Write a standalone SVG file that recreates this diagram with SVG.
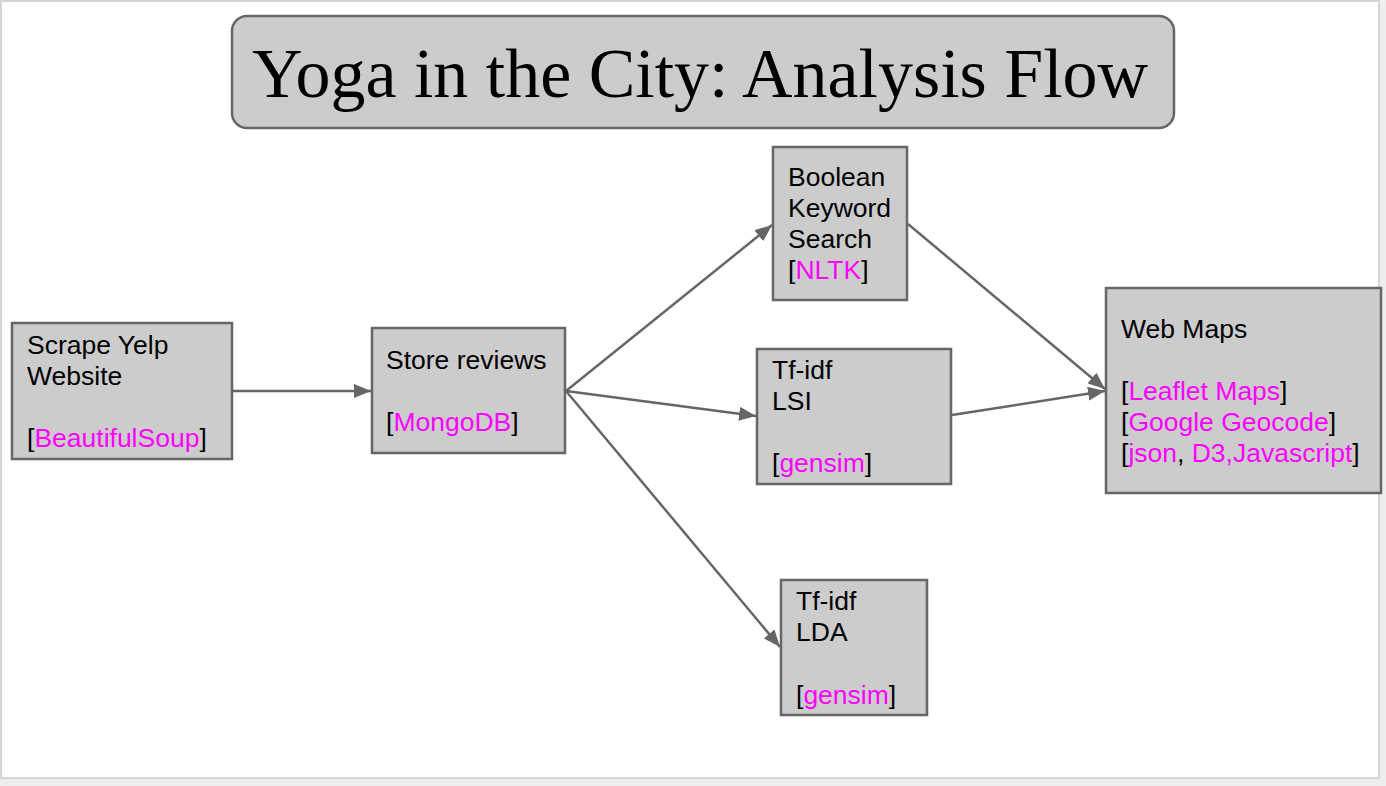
<svg xmlns="http://www.w3.org/2000/svg" width="1386" height="786" viewBox="0 0 1386 786">
<style>
.box{fill:#cccccc;stroke:#666666;stroke-width:2.5}
.t{font-family:"Liberation Sans",Arial,sans-serif;font-size:26.5px;fill:#000}
.m{fill:#ff00ff}
.c{stroke:#666666;stroke-width:2.5;fill:none;marker-end:url(#ah)}
</style>
<defs>
<marker id="ah" markerUnits="userSpaceOnUse" markerWidth="18" markerHeight="14" refX="17" refY="7" orient="auto">
<path d="M0,0 L17,7 L0,14 Z" fill="#666666"/>
</marker>
</defs>
<rect x="0" y="0" width="1386" height="786" fill="#eeeeee"/>
<rect x="1" y="1" width="1378" height="777" fill="#ffffff" stroke="#cccccc" stroke-width="1.5"/>
<g id="title">
<rect x="232" y="16" width="942" height="112" rx="15" ry="15" class="box"/>
<text x="252" y="97" font-family="'Liberation Serif','Times New Roman',serif" font-size="70" textLength="896" lengthAdjust="spacingAndGlyphs">Yoga in the City: Analysis Flow</text>
</g>
<g id="connectors">
<line x1="232" y1="391" x2="371" y2="391" class="c"/>
<line x1="566" y1="391" x2="772" y2="225" class="c"/>
<line x1="566" y1="391" x2="756" y2="416" class="c"/>
<line x1="566" y1="391" x2="780" y2="647" class="c"/>
<line x1="908" y1="224" x2="1105" y2="389" class="c"/>
<line x1="952" y1="415" x2="1105" y2="391" class="c"/>
</g>
<g id="scrape">
<rect x="12" y="323" width="220" height="136" class="box"/>
<text class="t" x="27" y="354">Scrape Yelp</text>
<text class="t" x="27" y="385">Website</text>
<text class="t" x="27" y="447">[<tspan class="m">BeautifulSoup</tspan>]</text>
</g>
<g id="store">
<rect x="372" y="328" width="193" height="125" class="box"/>
<text class="t" x="386" y="369">Store reviews</text>
<text class="t" x="386" y="431">[<tspan class="m">MongoDB</tspan>]</text>
</g>
<g id="boolean">
<rect x="773" y="147" width="134" height="153" class="box"/>
<text class="t" x="788" y="186">Boolean</text>
<text class="t" x="788" y="217">Keyword</text>
<text class="t" x="788" y="248">Search</text>
<text class="t" x="788" y="279">[<tspan class="m">NLTK</tspan>]</text>
</g>
<g id="lsi">
<rect x="757" y="349" width="194" height="135" class="box"/>
<text class="t" x="772" y="379">Tf-idf</text>
<text class="t" x="772" y="410">LSI</text>
<text class="t" x="772" y="472">[<tspan class="m">gensim</tspan>]</text>
</g>
<g id="lda">
<rect x="781" y="580" width="146" height="135" class="box"/>
<text class="t" x="796" y="610">Tf-idf</text>
<text class="t" x="796" y="641">LDA</text>
<text class="t" x="796" y="704">[<tspan class="m">gensim</tspan>]</text>
</g>
<g id="webmaps">
<rect x="1106" y="288" width="275" height="205" class="box"/>
<text class="t" x="1121" y="338">Web Maps</text>
<text class="t" x="1121" y="400">[<tspan class="m">Leaflet Maps</tspan>]</text>
<text class="t" x="1121" y="431">[<tspan class="m">Google Geocode</tspan>]</text>
<text class="t" x="1121" y="462">[<tspan class="m">json</tspan>, <tspan class="m">D3,Javascript</tspan>]</text>
</g>
</svg>
